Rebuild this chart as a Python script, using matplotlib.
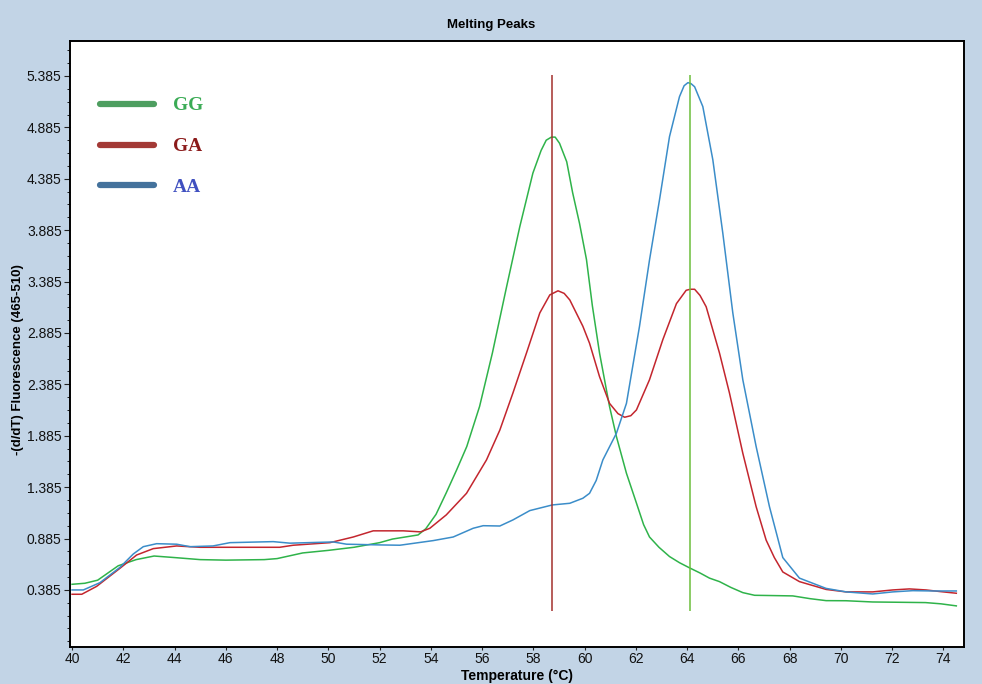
import numpy as np
import matplotlib.pyplot as plt
from matplotlib.lines import Line2D
from matplotlib.ticker import AutoMinorLocator

# Melting peak curves
gg_temp = [40.0, 40.5, 41.0, 41.8, 42.5, 43.2, 44.0, 45.0, 46.0, 47.5, 48.0, 49.0,
           50.0, 51.0, 52.0, 52.5, 53.0, 53.5, 53.8, 54.2, 54.6, 55.0, 55.4, 55.9,
           56.4, 56.95, 57.47, 57.98, 58.3, 58.5, 58.7, 58.85, 59.02, 59.3, 59.53,
           59.8, 60.07, 60.3, 60.58, 60.97, 61.24, 61.63, 62.02, 62.3, 62.53, 62.9,
           63.31, 63.7, 64.09, 64.5, 64.87, 65.26, 65.7, 66.17, 66.63, 67.4, 68.12,
           68.8, 69.42, 70.2, 71.23, 72.3, 73.3, 73.9, 74.5]
gg_val = [0.44, 0.45, 0.48, 0.62, 0.68, 0.715, 0.70, 0.68, 0.675, 0.68, 0.69, 0.745,
          0.77, 0.80, 0.845, 0.88, 0.90, 0.92, 0.98, 1.12, 1.33, 1.55, 1.78, 2.17,
          2.69, 3.33, 3.92, 4.44, 4.66, 4.76, 4.79, 4.79, 4.73, 4.55, 4.25,
          3.95, 3.60, 3.15, 2.69, 2.17, 1.876, 1.52, 1.23, 1.02, 0.90, 0.80,
          0.71, 0.65, 0.60, 0.55, 0.50, 0.466, 0.41, 0.359, 0.333, 0.33, 0.327,
          0.30, 0.281, 0.28, 0.268, 0.265, 0.262, 0.25, 0.23]

ga_temp = [40.0, 40.38, 40.96, 41.87, 42.52, 43.17, 44.08, 44.99, 46.03, 48.1, 48.63,
           50.06, 50.97, 51.75, 52.92, 53.6, 53.96, 54.6, 55.39, 56.17, 56.69, 57.2,
           57.73, 58.25, 58.64, 58.96, 59.2, 59.42, 59.93, 60.19, 60.58, 60.97, 61.3,
           61.56, 61.8, 62.02, 62.53, 63.05, 63.58, 63.96, 64.12, 64.29, 64.5, 64.74,
           65.26, 65.65, 66.17, 66.69, 67.08, 67.4, 67.73, 68.38, 69.42, 70.2, 71.24,
           72.02, 72.67, 73.32, 73.84, 74.5]
ga_val = [0.343, 0.343, 0.42, 0.596, 0.725, 0.787, 0.813, 0.80, 0.80, 0.80, 0.82,
          0.845, 0.90, 0.96, 0.96, 0.95, 0.985, 1.115, 1.325, 1.65, 1.94, 2.30,
          2.69, 3.08, 3.255, 3.295, 3.27, 3.206, 2.95, 2.785, 2.46, 2.20, 2.10,
          2.065, 2.08, 2.136, 2.43, 2.82, 3.17, 3.30, 3.31, 3.31, 3.25, 3.14,
          2.69, 2.30, 1.715, 1.195, 0.87, 0.70, 0.56, 0.466, 0.39, 0.366, 0.366,
          0.385, 0.395, 0.385, 0.37, 0.353]

aa_temp = [40.0, 40.44, 41.09, 41.87, 42.39, 42.78, 43.3, 44.08, 44.6, 45.5, 46.16,
           47.33, 47.85, 48.5, 50.19, 50.71, 52.0, 52.79, 54.09, 54.87, 55.65, 56.04,
           56.69, 57.2, 57.86, 58.74, 59.42, 59.93, 60.19, 60.45, 60.71, 61.24, 61.63,
           62.14, 62.53, 62.92, 63.31, 63.7, 63.88, 64.03, 64.15, 64.29, 64.61, 65.0,
           65.39, 65.78, 66.17, 66.69, 67.21, 67.5, 67.73, 68.38, 69.42, 70.2, 71.24,
           72.02, 72.8, 73.6, 74.5]
aa_val = [0.385, 0.385, 0.456, 0.605, 0.735, 0.806, 0.835, 0.83, 0.806, 0.813, 0.845,
          0.852, 0.855, 0.84, 0.852, 0.83, 0.823, 0.82, 0.865, 0.90, 0.985, 1.01,
          1.007, 1.066, 1.157, 1.212, 1.228, 1.277, 1.325, 1.45, 1.65, 1.91, 2.20,
          2.95, 3.595, 4.18, 4.795, 5.184, 5.29, 5.32, 5.31, 5.28, 5.087, 4.57,
          3.855, 3.08, 2.43, 1.78, 1.195, 0.92, 0.70, 0.50, 0.40, 0.366, 0.346,
          0.366, 0.378, 0.375, 0.375]

# peak markers (Tm)
tm_temps = [58.74, 64.12]
tm_colors = ['#a3302c', '#6cbf3c']
tm_bottom, tm_top = 0.185, 5.39

y_ticks = [0.385, 0.885, 1.385, 1.885, 2.385, 2.885, 3.385, 3.885, 4.385, 4.885, 5.385]
x_ticks = list(range(40, 75, 2))

legend_labels = ['GG', 'GA', 'AA']
legend_line_colors = ['#4e9e60', '#a33a36', '#44729c']
legend_text_colors = ['#3aab55', '#8b1a1a', '#4050c0']

bg = '#c2d4e6'
fig = plt.figure(figsize=(9.82, 6.84), dpi=100, facecolor=bg)
ax = fig.add_axes([70 / 982, 37 / 684, 894 / 982, 606 / 684])
ax.set_facecolor('white')

ax.plot(gg_temp, gg_val, color='#2fb34a', lw=1.1)
ax.plot(ga_temp, ga_val, color='#c3262e', lw=1.1)
ax.plot(aa_temp, aa_val, color='#3b8dc9', lw=1.1)
for t, c in zip(tm_temps, tm_colors):
    ax.vlines(t, tm_bottom, tm_top, color=c, lw=1.1)

ax.set_xlim(39.92, 74.8)
ax.set_ylim(-0.17, 5.725)
ax.set_xticks(x_ticks)
ax.set_yticks(y_ticks)
ax.set_yticklabels([f'{v:.3f}' for v in y_ticks])
ax.yaxis.set_minor_locator(AutoMinorLocator(4))
ax.tick_params(axis='both', which='major', labelsize=10, width=0.8,
               colors='#222222', labelcolor='#111111')
ax.tick_params(axis='y', which='major', length=4, pad=2)
ax.tick_params(axis='x', which='major', length=2.5, pad=1)
ax.tick_params(axis='y', which='minor', length=2.5, width=0.6)
for lab in ax.get_xticklabels() + ax.get_yticklabels():
    lab.set_fontfamily('Liberation Sans')
for s in ax.spines.values():
    s.set_linewidth(1.4)
    s.set_color('black')

handles = [Line2D([0], [0], color=c, lw=4.5, solid_capstyle='round') for c in legend_line_colors]
ax.legend(handles, legend_labels, loc='upper left', bbox_to_anchor=(0.0336, 0.908),
          frameon=False, borderpad=0, borderaxespad=0, handlelength=2.8,
          handletextpad=0.95, labelspacing=1.2, labelcolor=legend_text_colors,
          prop={'family': 'Liberation Serif', 'weight': 'bold', 'size': 14})

fig.text(0.5, 1 - 25 / 684, 'Melting Peaks', ha='center', va='center',
         fontsize=9.5, fontweight='bold', family='Liberation Sans')
fig.text(18 / 982, 1 - 360 / 684, '-(d/dT) Fluorescence (465-510)', rotation=90,
         ha='center', va='center', fontsize=9.5, fontweight='bold', family='Liberation Sans')
fig.text(517 / 982, 1 - 676 / 684, 'Temperature (°C)', ha='center', va='center',
         fontsize=10, fontweight='bold', family='Liberation Sans')

plt.savefig('out.png', dpi=100, facecolor=bg)
